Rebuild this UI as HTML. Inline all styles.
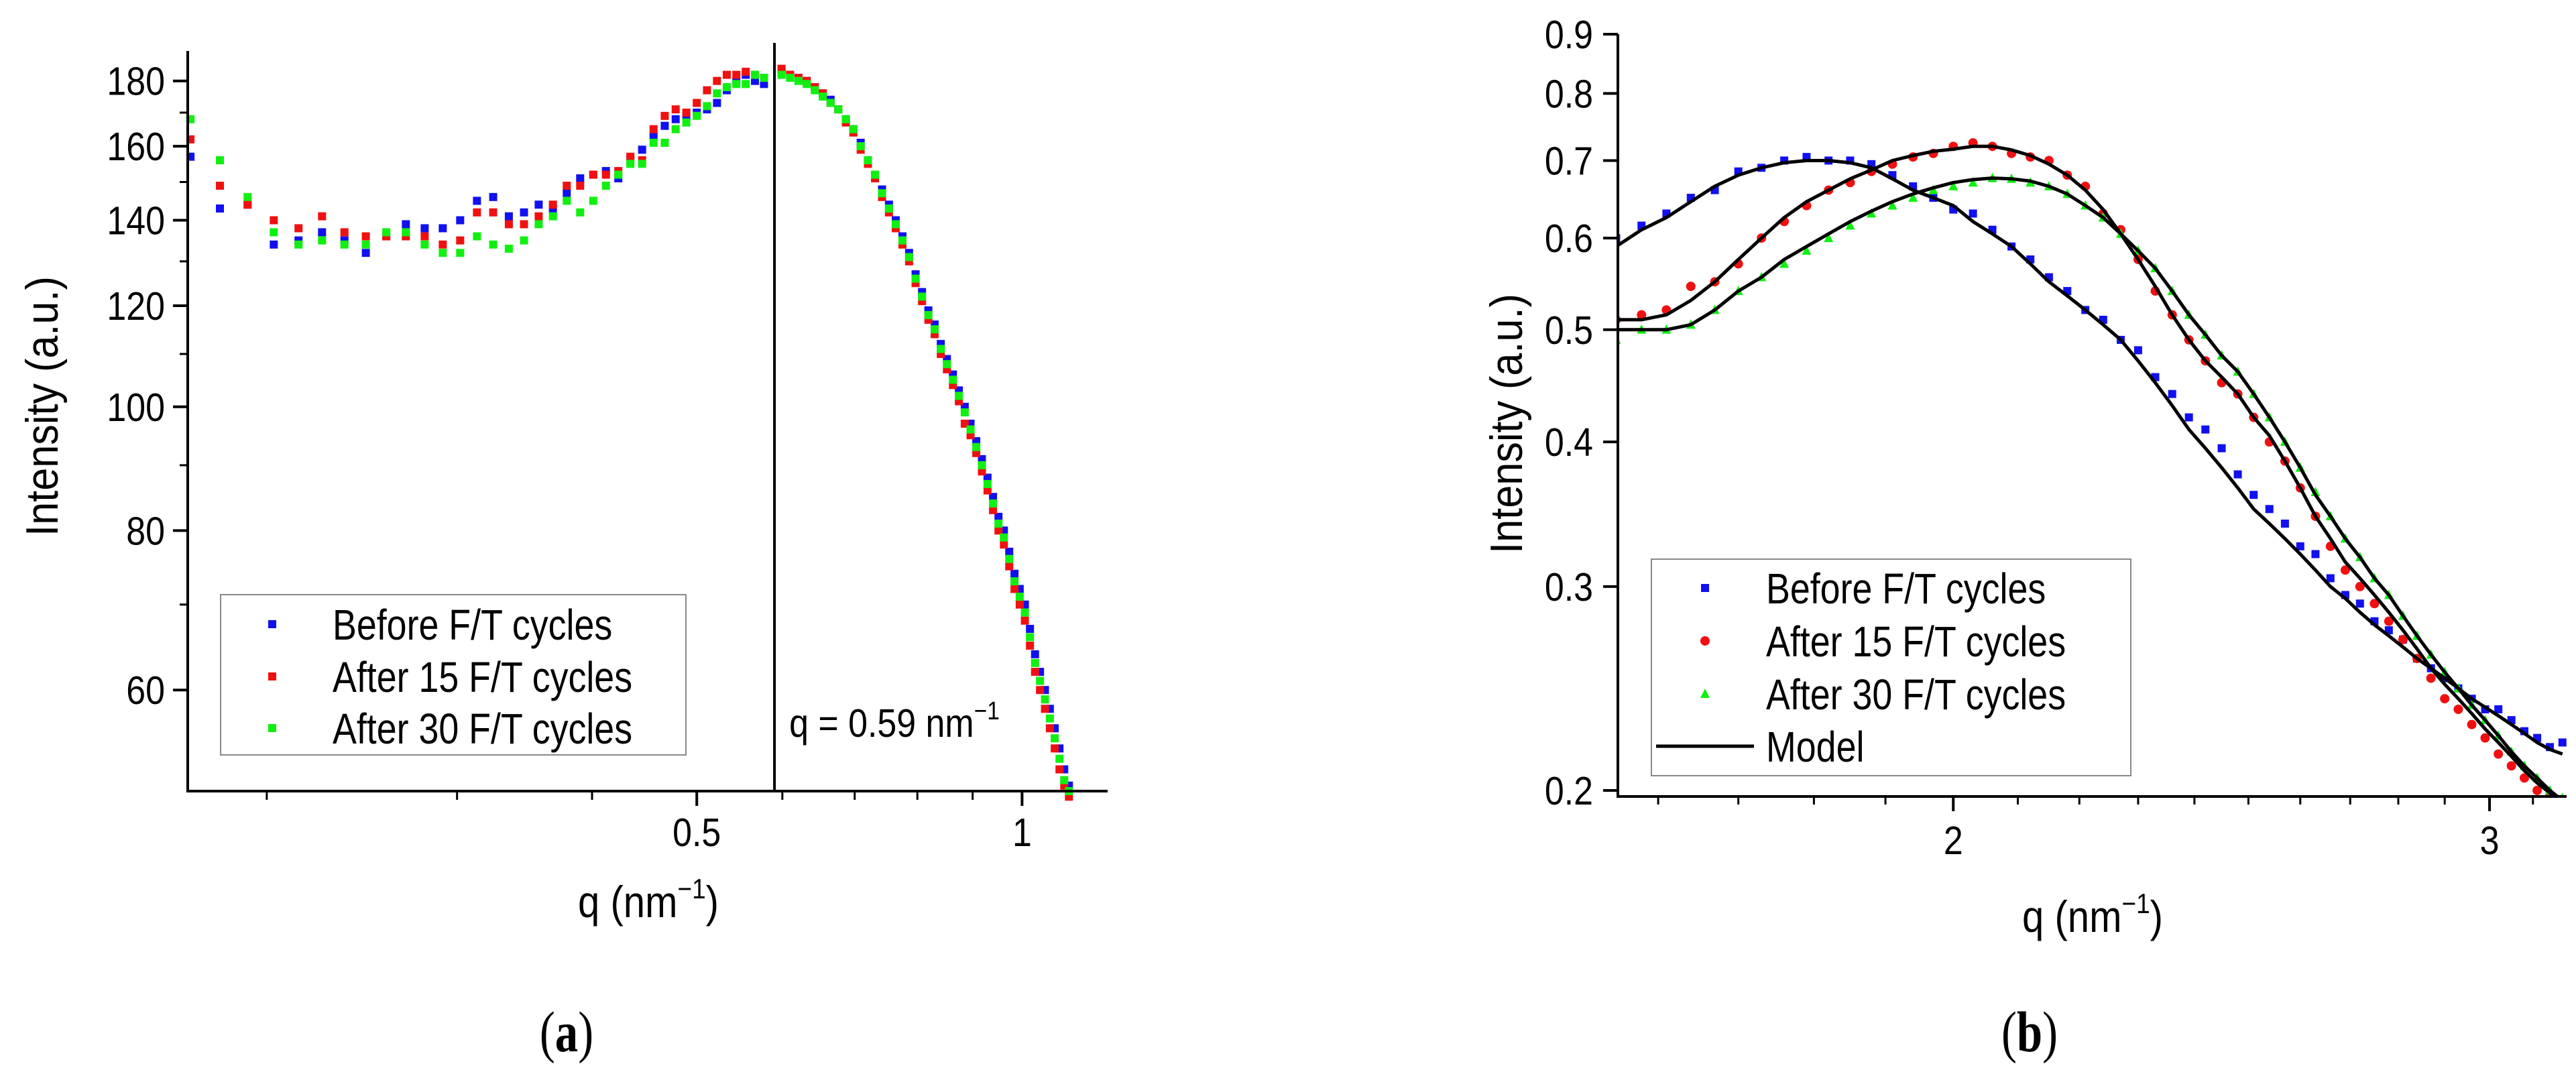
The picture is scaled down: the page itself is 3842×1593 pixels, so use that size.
<!DOCTYPE html>
<html><head><meta charset="utf-8"><style>
html,body{margin:0;padding:0;background:#fff;}
svg{display:block;}
text{font-family:"Liberation Sans",sans-serif;fill:#000;}
</style></head><body>
<svg id="fig" width="3842" height="1593" viewBox="0 0 3842 1593" xmlns="http://www.w3.org/2000/svg">
<g id="pa"></g>
<g id="pb"></g>
</svg>
<script>
// ---------- Panel (a) data ----------
const qA = [0.170,0.181,0.192,0.203,0.214,0.225,0.236,0.247,0.258,0.269,0.280,0.291,0.302,0.313,0.324,0.335,0.346,0.357,0.368,0.379,0.390,0.401,0.412,0.423,0.434,0.445,0.456,0.467,0.478,0.489,0.500,0.511,0.522,0.533,0.544,0.555,0.566,0.577,0.599,0.610,0.621,0.632,0.643,0.654,0.665,0.676,0.687,0.698,0.709,0.720,0.731,0.742,0.753,0.764,0.775,0.786,0.797,0.808,0.819,0.830,0.841,0.852,0.863,0.874,0.885,0.896,0.907,0.918,0.929,0.940,0.951,0.962,0.973,0.984,0.995,1.006,1.017,1.028,1.039,1.050,1.061,1.072,1.083,1.094,1.105];
const beforeA = [157,143,144,134,135,137,135,132,136,139,138,138,140,145,146,141,142,144,143,147,151,152,153,151,156,159,163,166,168,169,170,171,173,177,180,182,180,179,183,182,181,180,178,176,174,171,168,165,161,156,152,148,144,140,136,132,127,123,119,116,112,109,106,103,100,97,94,91,88,85,82,80,77,74,72,70,67,64,62,60,58,56,54,52,50.5];
const after15A = [162,149,144,140,138,141,137,136,136,136,136,134,135,142,142,139,139,141,144,149,149,152,152,153,157,156,165,169,171,170,173,177,180,182,182,183,182,181,184,182,181,180,178,176,173,171,167,164,159,155,151,146,142,138,134,130,125,121,117,114,110,107,104,101,97,95,92,89,86,83,80,78,75,72,70,68,65,62,60,58,56,54,52,50.5,49.5];
const after30A = [168,156,146,137,134,135,134,134,137,137,134,132,132,136,134,133,135,139,141,145,142,145,149,152,155,155,161,161,165,167,169,172,176,178,179,179,182,181,182,181,180,179,177,175,173,171,168,165,160,156,152,147,143,139,135,131,126,122,118,115,111,108,105,102,99,96,93,90,87,84,81,79,76,73,71,69,66,63,61,59,57,55,53,51,50];
const yTicksA = [60,80,100,120,140,160,180];
const yMinorA = [70,90,110,130,150,170];
const xTicksA = [0.5,1];
const xTickLabelsA = ["0.5","1"];
const xMinorA = [0.2,0.3,0.4,0.6,0.7,0.8,0.9,1.1];
const qLine = 0.59;

// ---------- Panel (b) data ----------
const qB = [1.55,1.58,1.61,1.64,1.67,1.70,1.73,1.76,1.79,1.82,1.85,1.88,1.91,1.94,1.97,2.00,2.03,2.06,2.09,2.12,2.15,2.18,2.21,2.24,2.27,2.30,2.33,2.36,2.39,2.42,2.45,2.48,2.51,2.54,2.57,2.60,2.63,2.66,2.69,2.72,2.75,2.78,2.81,2.84,2.87,2.90,2.93,2.96,2.99,3.02,3.05,3.08,3.11,3.14,3.17];
const beforeB = [0.60,0.615,0.63,0.65,0.66,0.685,0.69,0.70,0.705,0.70,0.70,0.695,0.68,0.665,0.65,0.635,0.63,0.61,0.59,0.575,0.555,0.54,0.52,0.51,0.49,0.48,0.455,0.44,0.42,0.41,0.395,0.375,0.36,0.35,0.34,0.325,0.32,0.305,0.295,0.29,0.28,0.275,0.27,0.26,0.255,0.25,0.245,0.24,0.235,0.235,0.23,0.225,0.222,0.218,0.22];
const after15B = [0.51,0.515,0.52,0.545,0.55,0.57,0.60,0.62,0.64,0.66,0.67,0.685,0.695,0.705,0.71,0.72,0.725,0.72,0.71,0.705,0.70,0.68,0.665,0.63,0.61,0.575,0.54,0.515,0.49,0.47,0.45,0.44,0.42,0.40,0.385,0.365,0.345,0.325,0.31,0.30,0.29,0.28,0.27,0.26,0.25,0.24,0.235,0.228,0.222,0.215,0.21,0.205,0.20,0.198,0.196];
const after30B = [0.49,0.50,0.50,0.505,0.52,0.54,0.555,0.57,0.585,0.60,0.615,0.63,0.64,0.65,0.66,0.665,0.67,0.676,0.675,0.67,0.665,0.655,0.64,0.625,0.605,0.585,0.565,0.54,0.515,0.495,0.475,0.46,0.44,0.42,0.40,0.38,0.362,0.345,0.33,0.318,0.305,0.295,0.283,0.272,0.262,0.253,0.245,0.237,0.23,0.223,0.216,0.21,0.205,0.20,0.197];
const modelBefore = [0.59,0.61,0.625,0.645,0.665,0.68,0.69,0.697,0.70,0.70,0.697,0.69,0.675,0.66,0.65,0.64,0.62,0.605,0.59,0.57,0.55,0.535,0.52,0.505,0.49,0.47,0.45,0.43,0.41,0.395,0.38,0.365,0.35,0.34,0.33,0.32,0.31,0.30,0.293,0.285,0.278,0.272,0.266,0.26,0.255,0.25,0.245,0.24,0.236,0.232,0.228,0.224,0.22,0.217,0.215];
const model15 = [0.51,0.51,0.515,0.53,0.55,0.575,0.60,0.625,0.645,0.66,0.675,0.687,0.70,0.707,0.713,0.716,0.72,0.72,0.715,0.707,0.695,0.68,0.66,0.635,0.605,0.575,0.545,0.515,0.49,0.47,0.455,0.44,0.42,0.405,0.385,0.365,0.345,0.33,0.315,0.305,0.295,0.285,0.275,0.265,0.255,0.247,0.24,0.233,0.226,0.22,0.214,0.208,0.203,0.199,0.196];
const model30 = [0.50,0.50,0.50,0.505,0.52,0.54,0.555,0.575,0.59,0.605,0.62,0.633,0.645,0.655,0.663,0.67,0.674,0.676,0.675,0.672,0.665,0.655,0.64,0.625,0.605,0.585,0.565,0.54,0.515,0.495,0.475,0.46,0.44,0.42,0.40,0.38,0.36,0.345,0.33,0.318,0.305,0.295,0.283,0.272,0.262,0.253,0.245,0.237,0.23,0.223,0.216,0.21,0.205,0.20,0.196];
const yTicksB = [0.2,0.3,0.4,0.5,0.6,0.7,0.8,0.9];
const yTickLabelsB = ["0.2","0.3","0.4","0.5","0.6","0.7","0.8","0.9"];
const xTicksB = [2,3];
const xMinorB = [1.6,1.7,1.8,1.9,2.1,2.2,2.3,2.4,2.5,2.6,2.7,2.8,2.9,3.1];

const NS = "http://www.w3.org/2000/svg";
function mk(tag, attrs, parent){ const e=document.createElementNS(NS,tag); for(const k in attrs) e.setAttribute(k,attrs[k]); parent.appendChild(e); return e; }
function logScale(d0,d1,r0,r1){ return v => r0 + (Math.log(v)-Math.log(d0))/(Math.log(d1)-Math.log(d0))*(r1-r0); }
function txt(parent,x,y,s,size,anchor,sx){
  const t=mk('text',{transform:`translate(${x},${y}) scale(${sx||0.88},1)`,'font-size':size,'text-anchor':anchor||'start'},parent);
  t.textContent=s; return t;
}

// ================= Panel A =================
const pa=document.getElementById('pa');
const XA=logScale(0.169,1.2,280,1652), YA=logScale(50,190,1180,76);
yTicksA.forEach(v=>{
  const l=mk('line',{x1:258,x2:280,y1:YA(v),y2:YA(v),stroke:'#000','stroke-width':4},pa);
  
  
  const t=txt(pa,246,YA(v)+21,String(v),59,'end');
  
  
});
yMinorA.forEach(v=>{
  const l=mk('line',{x1:268,x2:280,y1:YA(v),y2:YA(v),stroke:'#000','stroke-width':3},pa);
  
  
});
xTicksA.forEach((v,i)=>{
  const l=mk('line',{x1:XA(v),x2:XA(v),y1:1180,y2:1202,stroke:'#000','stroke-width':4},pa);
  
  
  const t=txt(pa,XA(v),1262,xTickLabelsA[i],59,'middle');
  
  
});
xMinorA.forEach(v=>{
  const l=mk('line',{x1:XA(v),x2:XA(v),y1:1180,y2:1193,stroke:'#000','stroke-width':3},pa);
  
  
});
function squaresA(arr,color,name){
  const g=mk('g',{fill:color},pa);
  
  
  arr.forEach((v,i)=>{ mk('rect',{x:XA(qA[i])-6,y:YA(v)-6,width:12,height:12},g); });
}
squaresA(beforeA,'#1010f0','series-before-a');
squaresA(after15A,'#f01010','series-after15-a');
squaresA(after30A,'#10f010','series-after30-a');
const axA=mk('path',{d:'M280,76 V1180 H1652',fill:'none',stroke:'#000','stroke-width':4},pa);


const vl=mk('line',{x1:XA(qLine),x2:XA(qLine),y1:64,y2:1180,stroke:'#000','stroke-width':4},pa);


const ql=mk('text',{transform:`translate(${XA(qLine)+22},1099) scale(0.88,1)`,'font-size':59},pa);


ql.innerHTML='q = 0.59 nm<tspan font-size="38" dy="-26">−1</tspan>';
const lgA=mk('g',{},pa);


mk('rect',{x:329,y:887,width:694,height:239,fill:'#fff',stroke:'#888','stroke-width':2},lgA);
[['Before F/T cycles','#1010f0',931],['After 15 F/T cycles','#f01010',1009],['After 30 F/T cycles','#10f010',1086]].forEach(e=>{
  const m=mk('rect',{x:400,y:e[2]-6,width:12,height:12,fill:e[1]},lgA);
  
  
  const t=txt(lgA,496,e[2]+23,e[0],64,'start',0.84);
  
  
});
const ytA=mk('text',{transform:'translate(86,606) rotate(-90) scale(0.9,1)','font-size':68,'text-anchor':'middle'},pa);


ytA.textContent='Intensity (a.u.)';
const xtA=mk('text',{transform:'translate(967,1368) scale(0.88,1)','font-size':66,'text-anchor':'middle'},pa);


xtA.innerHTML='q (nm<tspan font-size="42" dy="-28">−1</tspan><tspan dy="28">)</tspan>';
const capA=mk('text',{transform:'translate(845,1568) scale(0.8,1)','font-size':86,'text-anchor':'middle',style:'font-family:"Liberation Serif",serif'},pa);


capA.innerHTML='(<tspan font-weight="bold">a</tspan>)';

// ================= Panel B =================
const pb=document.getElementById('pb');
const XB=logScale(1.552,3.18,2413,3828), YB=logScale(0.1976,0.9,1188,51);
const clipB=mk('clipPath',{id:'clipb'},pb);
mk('rect',{x:2413,y:40,width:1420,height:1148},clipB);
yTicksB.forEach((v,i)=>{
  const l=mk('line',{x1:2391,x2:2413,y1:YB(v),y2:YB(v),stroke:'#000','stroke-width':4},pb);
  
  
  const t=txt(pb,2376,YB(v)+21,yTickLabelsB[i],59,'end');
  
  
});
xTicksB.forEach(v=>{
  const l=mk('line',{x1:XB(v),x2:XB(v),y1:1188,y2:1210,stroke:'#000','stroke-width':4},pb);
  
  
  const t=txt(pb,XB(v),1274,String(v),59,'middle');
  
  
});
xMinorB.forEach(v=>{
  const l=mk('line',{x1:XB(v),x2:XB(v),y1:1188,y2:1200,stroke:'#000','stroke-width':3},pb);
  
  
});
const gB=mk('g',{'clip-path':'url(#clipb)'},pb);


const gBlue=mk('g',{fill:'#1010f0'},gB);


beforeB.forEach((v,i)=>{ mk('rect',{x:XB(qB[i])-6,y:YB(v)-6,width:12,height:12},gBlue); });
const gRed=mk('g',{fill:'#f01010'},gB);


after15B.forEach((v,i)=>{ mk('circle',{cx:XB(qB[i]),cy:YB(v),r:7},gRed); });
const gGreen=mk('g',{fill:'#10f010'},gB);


after30B.forEach((v,i)=>{ const x=XB(qB[i]),y=YB(v); mk('polygon',{points:`${x},${y-8} ${x-7},${y+6} ${x+7},${y+6}`},gGreen); });
function modelLine(arr,name){
  const p=mk('path',{d:arr.map((v,i)=>(i?'L':'M')+XB(qB[i]).toFixed(1)+','+YB(v).toFixed(1)).join(' '),fill:'none',stroke:'#000','stroke-width':5,'stroke-linejoin':'round'},gB);
  
  
}
modelLine(modelBefore,'model-before');
modelLine(model15,'model-after15');
modelLine(model30,'model-after30');
const axB=mk('path',{d:'M2413,51 V1188 H3828',fill:'none',stroke:'#000','stroke-width':4},pb);


const lgB=mk('g',{},pb);


mk('rect',{x:2463,y:834,width:715,height:323,fill:'#fff',stroke:'#888','stroke-width':2},lgB);
const mb=mk('rect',{x:2537,y:871,width:12,height:12,fill:'#1010f0'},lgB);


const mr=mk('circle',{cx:2543,cy:956,r:7,fill:'#f01010'},lgB);


const mg=mk('polygon',{points:'2543,1027 2536,1041 2550,1041',fill:'#10f010'},lgB);


const mm=mk('line',{x1:2470,x2:2616,y1:1113,y2:1113,stroke:'#000','stroke-width':5},lgB);


[['Before F/T cycles',877],['After 15 F/T cycles',956],['After 30 F/T cycles',1035],['Model',1113]].forEach(e=>{
  const t=txt(lgB,2634,e[1]+23,e[0],64,'start',0.84);
  
  
});
const ytB=mk('text',{transform:'translate(2270,632) rotate(-90) scale(0.9,1)','font-size':68,'text-anchor':'middle'},pb);


ytB.textContent='Intensity (a.u.)';
const xtB=mk('text',{transform:'translate(3121,1390) scale(0.88,1)','font-size':66,'text-anchor':'middle'},pb);


xtB.innerHTML='q (nm<tspan font-size="42" dy="-28">−1</tspan><tspan dy="28">)</tspan>';
const capB=mk('text',{transform:'translate(3027,1568) scale(0.8,1)','font-size':86,'text-anchor':'middle',style:'font-family:"Liberation Serif",serif'},pb);


capB.innerHTML='(<tspan font-weight="bold">b</tspan>)';
</script>
</body></html>
